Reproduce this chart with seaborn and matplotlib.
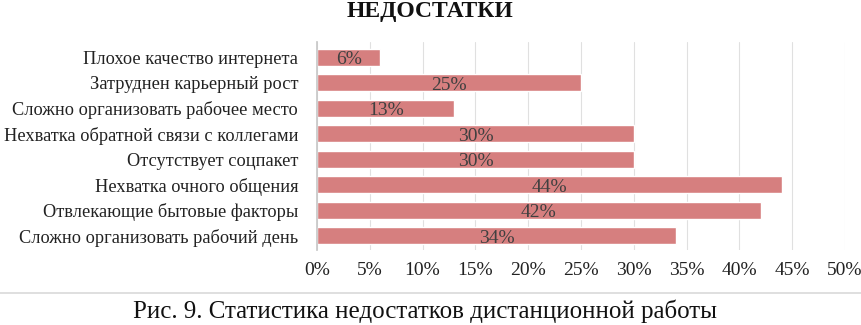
import pandas as pd
import seaborn as sns
import matplotlib.pyplot as plt
from matplotlib.lines import Line2D

categories = [
    "Плохое качество интернета",
    "Затруднен карьерный рост",
    "Сложно организовать рабочее место",
    "Нехватка обратной связи с коллегами",
    "Отсутствует соцпакет",
    "Нехватка очного общения",
    "Отвлекающие бытовые факторы",
    "Сложно организовать рабочий день",
]
values = [6, 25, 13, 30, 30, 44, 42, 34]
xticks = [0, 5, 10, 15, 20, 25, 30, 35, 40, 45, 50]

df = pd.DataFrame({"cat": categories, "val": values})

sns.set_theme(style="white")
plt.rcParams["font.family"] = ["Liberation Serif", "DejaVu Serif"]

fig = plt.figure(figsize=(8.62, 3.25), dpi=100)
ax = fig.add_axes([0.3677, 0.231, 0.6126, 0.64])

sns.barplot(data=df, x="val", y="cat", orient="h", color="#d67f7f",
            saturation=1, width=0.66, ax=ax)

# percentage labels in the middle of each bar
for i, v in enumerate(values):
    ax.text(v / 2, i + 0.1, f"{v}%", ha="center", va="center",
            fontsize=14, color="#404040")

ax.set_xlim(0, 50)
ax.set_ylim(7.55, -0.6)
ax.set_xticks(xticks)
ax.set_xticklabels([f"{t}%" for t in xticks], fontsize=14, color="#222222")
ax.tick_params(axis="y", labelsize=13.2, labelcolor="#222222", length=0, pad=13.5)
ax.tick_params(axis="x", length=0, pad=9)
ax.set_xlabel("")
ax.set_ylabel("")
ax.grid(axis="x", color="#e0e0e0", linewidth=0.8)
ax.set_axisbelow(True)
sns.despine(ax=ax, top=True, right=True, bottom=True)
ax.spines["left"].set_color("#c8c8c8")

fig.text(0.499, 0.965, "НЕДОСТАТКИ", ha="center", va="center",
         fontsize=17, fontweight="bold", color="#111111")
fig.add_artist(Line2D([0, 1], [0.1, 0.1], transform=fig.transFigure,
                      color="#d9d9d9", linewidth=1.2))
fig.text(0.493, 0.043, "Рис. 9. Статистика недостатков дистанционной работы",
         ha="center", va="center", fontsize=18, color="#111111")

fig.savefig("out.png", dpi=100)
